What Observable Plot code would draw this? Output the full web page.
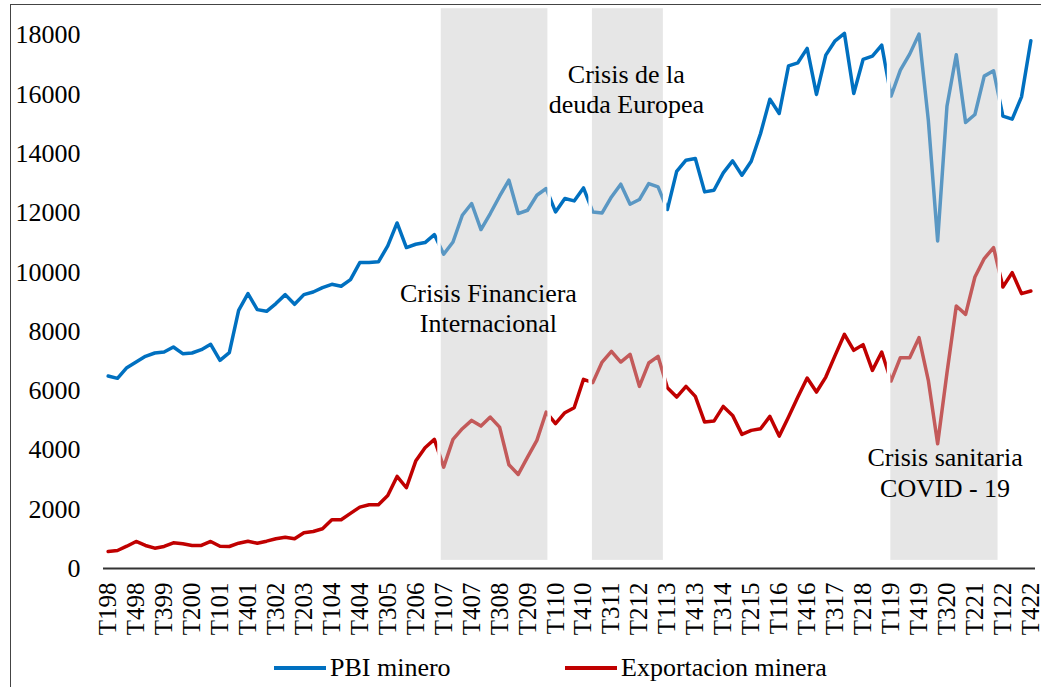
<!DOCTYPE html>
<html>
<head>
<meta charset="utf-8">
<script src="https://cdn.jsdelivr.net/npm/d3@7"></script>
<script src="https://cdn.jsdelivr.net/npm/@observablehq/plot@0.6"></script>
<style>
  body { margin: 0; background: #fff; font-family: "Liberation Serif", "Times New Roman", serif; }
  #wrap { position: relative; width: 1041px; height: 687px; overflow: hidden; background: #fff; }
  #frame { position: absolute; left: 10px; top: 4px; width: 1200px; height: 900px;
           border-left: 1.5px solid #444; border-top: 1.5px solid #444; pointer-events: none; }
  #chart { position: absolute; left: 0; top: 0; }
  .leg { position: absolute; top: 653px; display: flex; align-items: center; font-size: 26px; line-height: 30px; color: #000; white-space: nowrap; font-family: "Liberation Serif", "Times New Roman", serif; }
  .leg .sw { display: inline-block; width: 52px; height: 3.5px; margin-right: 4px; }
</style>
</head>
<body>
<div id="wrap">
  <div id="chart"></div>
  <div id="frame"></div>
  <div class="leg" style="left:274px"><span class="sw" style="background:#0070C0"></span>PBI minero</div>
  <div class="leg" style="left:565px"><span class="sw" style="background:#C00000"></span>Exportacion minera</div>
</div>
<script>
// ---- Data ----
const years = d3.range(1998, 2023);
const quarters = years.flatMap(y => [1, 2, 3, 4].map(q => `T${q}${String(y % 100).padStart(2, "0")}`));

const tickLabels = ["T198","T498","T399","T200","T101","T401","T302","T203","T104","T404","T305","T206",
  "T107","T407","T308","T209","T110","T410","T311","T212","T113","T413","T314","T215","T116","T416",
  "T317","T218","T119","T419","T320","T221","T122","T422"];

const pbiMinero = [
  6494, 6417, 6777, 6968, 7160, 7272, 7306, 7475, 7250, 7272,
  7385, 7565, 7025, 7284, 8713, 9277, 8737, 8680, 8940, 9243,
  8916, 9243, 9331, 9480, 9591, 9524, 9750, 10324, 10324, 10350,
  10885, 11662, 10831, 10942, 11000, 11270, 10604, 11020, 11922, 12317,
  11439, 11979, 12563, 13104, 11979, 12090, 12597, 12823, 12033, 12486,
  12405, 12844, 12033, 12000, 12540, 12969, 12293, 12452, 12992, 12877,
  12114, 13400, 13779, 13835, 12710, 12766, 13351, 13756, 13273, 13745,
  14681, 15839, 15356, 16965, 17066, 17553, 15999, 17325, 17809, 18059,
  16033, 17180, 17291, 17663, 15941, 16819, 17359, 18034, 15130, 11055,
  15600, 17340, 15050, 15322, 16616, 16796, 15265, 15164, 15917, 17809
];

const exportacionMinera = [
  574, 608, 753, 912, 777, 686, 743, 868, 834, 777,
  777, 912, 753, 743, 854, 922, 854, 922, 1003, 1057,
  1003, 1206, 1250, 1341, 1645, 1645, 1860, 2070, 2151, 2151,
  2465, 3107, 2725, 3624, 4076, 4357, 3422, 4357, 4718, 4998,
  4806, 5110, 4772, 3502, 3175, 3759, 4323, 5279, 4887, 5258,
  5427, 6383, 6272, 6968, 7329, 6968, 7227, 6147, 6934, 7160,
  6103, 5785, 6147, 5809, 4941, 4975, 5471, 5167, 4526, 4661,
  4718, 5133, 4468, 5110, 5785, 6427, 5955, 6461, 7194, 7903,
  7362, 7555, 6687, 7305, 6326, 7116, 7116, 7791, 6349, 4211,
  6600, 8859, 8578, 9838, 10459, 10831, 9500, 9986, 9277, 9365
];

// Crisis periods (in quarter-index units)
const crisisStart = [35.55, 51.77, 83.79];
const crisisEnd   = [47.37, 59.76, 95.67];

const annotationText = ["Crisis Financiera", "Internacional", "Crisis de la", "deuda Europea", "Crisis sanitaria", "COVID - 19"];

// ---- Build tables ----
const rows = quarters.map((q, i) => ({ i, q, pbi: pbiMinero[i], exp: exportacionMinera[i] }));
const crises = crisisStart.map((s, k) => ({ start: s, end: crisisEnd[k] }));
const notePos = [[40.8, 9274], [40.8, 8251], [55.6, 16660], [55.6, 15647], [89.8, 3735], [89.8, 2688]];
const notes = annotationText.map((t, k) => ({ text: t, x: notePos[k][0], y: notePos[k][1] }));
const tickIdx = tickLabels.map(l => quarters.indexOf(l));

const chart = Plot.plot({
  width: 1041,
  height: 650,
  marginLeft: 103,
  marginRight: 6,
  marginTop: 5,
  marginBottom: 82,
  style: { fontFamily: "'Liberation Serif', 'Times New Roman', serif", fontSize: "26px", color: "#000", background: "transparent", overflow: "visible" },
  x: { domain: [-0.5, 99.5], ticks: tickIdx, tickFormat: i => quarters[i], tickRotate: -90, tickSize: 0, tickPadding: 14, label: null },
  y: { domain: [0, 19000], ticks: d3.range(0, 18001, 2000), tickFormat: d => String(d), tickSize: 0, tickPadding: 23, label: null },
  marks: [
    Plot.ruleY([0], { stroke: "#333", strokeWidth: 2 }),
    Plot.line(rows, { x: "i", y: "pbi", stroke: "#0070C0", strokeWidth: 3.5, strokeLinejoin: "round" }),
    Plot.line(rows, { x: "i", y: "exp", stroke: "#C00000", strokeWidth: 3.5, strokeLinejoin: "round" }),
    Plot.rect(crises, { x1: "start", x2: "end", y1: 215, y2: 18950, fill: "#c8c8c8", fillOpacity: 0.45, stroke: "white", strokeWidth: 3.5 }),
    Plot.text(notes, { x: "x", y: "y", text: "text", fontSize: 26, fill: "#000" })
  ]
});
d3.select(chart).selectAll('g[aria-label="x-axis tick label"]').attr("font-size", 25);
document.getElementById("chart").appendChild(chart);
</script>
</body>
</html>
